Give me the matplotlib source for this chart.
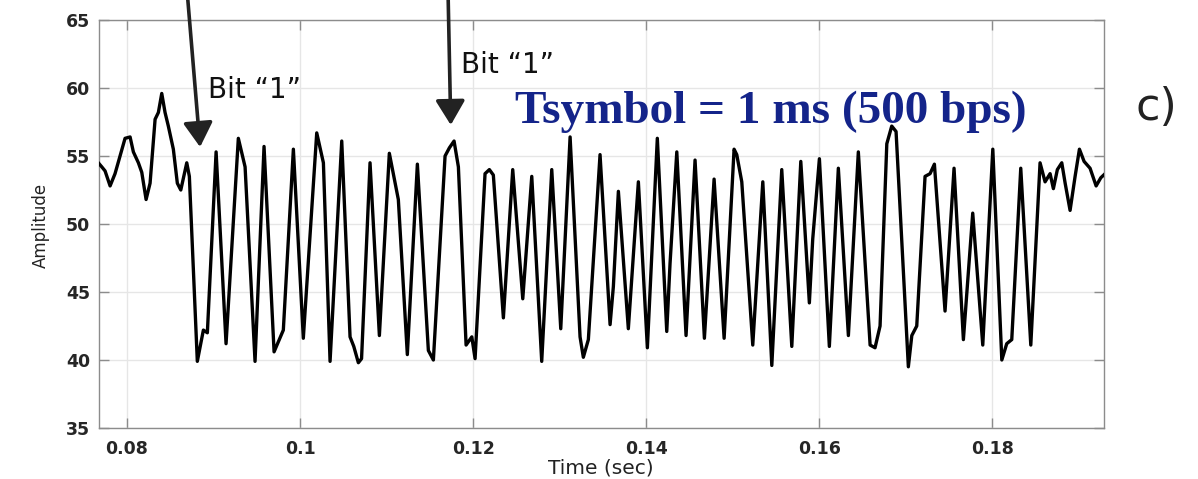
import matplotlib
matplotlib.use("Agg")
import matplotlib.pyplot as plt

# ---- data ----
time_ms = [76.68, 77.08, 77.46, 78.04, 78.61, 79.19, 79.77, 80.35, 80.73, 81.31,
           81.70, 82.20, 82.66, 83.24, 83.62, 84.01, 84.39, 84.77, 85.35, 85.81,
           86.21, 86.90, 87.20, 88.12, 88.82, 89.28, 90.29, 91.44, 92.86, 93.64,
           94.79, 95.83, 96.99, 98.06, 99.22, 100.37, 101.92, 102.69, 103.46,
           104.81, 105.77, 106.20, 106.73, 107.10, 108.08, 109.16, 110.31, 111.35,
           112.39, 113.55, 114.82, 115.40, 116.75, 117.25, 117.79, 118.29, 119.18,
           119.84, 120.22, 121.37, 121.87, 122.33, 123.49, 124.57, 125.73, 126.77,
           127.92, 129.08, 130.12, 131.20, 132.35, 132.73, 133.31, 134.66, 135.82,
           136.20, 136.78, 137.93, 139.09, 140.13, 141.28, 142.37, 142.75, 143.53,
           144.60, 145.64, 146.72, 147.84, 149.00, 150.15, 150.46, 151.04, 152.31,
           153.47, 154.51, 155.66, 156.82, 157.86, 158.85, 159.24, 160.01, 161.16,
           162.20, 163.36, 164.51, 165.87, 166.44, 167.02, 167.80, 168.37, 168.87,
           170.29, 170.69, 171.26, 172.22, 172.80, 173.30, 174.53, 175.57, 176.65,
           177.73, 178.89, 180.05, 181.09, 181.66, 182.24, 183.28, 184.44, 185.51,
           186.09, 186.67, 187.05, 187.51, 188.02, 188.41, 188.98, 189.56, 190.06,
           190.60, 191.29, 191.99, 192.53, 193.03]
amplitude = [54.5, 54.2, 53.9, 52.8, 53.7, 55.0, 56.3, 56.4, 55.3, 54.5,
             53.8, 51.8, 53.0, 57.7, 58.2, 59.6, 58.2, 57.2, 55.5, 53.0,
             52.5, 54.5, 53.5, 39.9, 42.2, 42.0, 55.3, 41.2, 56.3, 54.2,
             39.9, 55.7, 40.6, 42.2, 55.5, 41.6, 56.7, 54.5, 39.9,
             56.1, 41.7, 41.0, 39.8, 40.1, 54.5, 41.8, 55.2, 51.8,
             40.4, 54.4, 40.7, 40.0, 55.0, 55.6, 56.1, 54.2, 41.1,
             41.7, 40.1, 53.7, 54.0, 53.6, 43.1, 54.0, 44.5, 53.5,
             39.9, 54.0, 42.3, 56.4, 41.7, 40.2, 41.5, 55.1, 42.6,
             45.4, 52.4, 42.3, 53.1, 40.9, 56.3, 42.1, 47.1, 55.3,
             41.8, 54.7, 41.6, 53.3, 41.6, 55.5, 55.1, 53.1, 41.1,
             53.1, 39.6, 54.0, 41.0, 54.6, 44.2, 48.9, 54.8, 41.0,
             54.1, 41.8, 55.3, 41.1, 40.9, 42.5, 55.9, 57.2, 56.8,
             39.5, 41.8, 42.5, 53.5, 53.7, 54.4, 43.6, 54.1, 41.5,
             50.8, 41.1, 55.5, 40.0, 41.2, 41.5, 54.1, 41.1, 54.5,
             53.1, 53.7, 52.6, 54.0, 54.5, 53.0, 51.0, 53.5, 55.5,
             54.6, 54.1, 52.8, 53.4, 53.7]
time_s = [t / 1000.0 for t in time_ms]

x_ticks = [0.08, 0.10, 0.12, 0.14, 0.16, 0.18]
x_tick_labels = ["0.08", "0.1", "0.12", "0.14", "0.16", "0.18"]
y_ticks = [35, 40, 45, 50, 55, 60, 65]
y_tick_labels = ["35", "40", "45", "50", "55", "60", "65"]

# annotation targets (data coords: time s, amplitude)
bit_tips = [(0.08844, 55.66), (0.11741, 57.28)]

W, H = 1198, 479
fig = plt.figure(figsize=(W / 100, H / 100), dpi=100)
ax = fig.add_axes([98.5 / W, 1 - 428 / H, (1104 - 98.5) / W, (428 - 20) / H])

ax.plot(time_s, amplitude, color="black", lw=2.4, solid_joinstyle="round", zorder=3)

ax.set_xlim(0.0767, 0.1929)
ax.set_ylim(35, 65)
ax.set_xticks(x_ticks)
ax.set_xticklabels(x_tick_labels)
ax.set_yticks(y_ticks)
ax.set_yticklabels(y_tick_labels)
ax.grid(True, color="#e6e6e6", lw=1.0, zorder=0)
ax.set_axisbelow(True)
for s in ax.spines.values():
    s.set_color("#8c8c8c")
    s.set_linewidth(1.0)
ax.tick_params(direction="in", length=7, width=1, color="#8c8c8c",
               top=True, right=True, labelsize=12.5, labelcolor="#262626")
ax.tick_params(axis="x", pad=9)
ax.tick_params(axis="y", pad=6)
for lab in ax.get_xticklabels() + ax.get_yticklabels():
    lab.set_fontweight("bold")

ax.set_ylabel("Amplitude", fontsize=12, color="#222222")
ax.yaxis.set_label_coords((50 - 98.5) / (1104 - 98.5), (428 - 225) / 408)
fig.text(601 / W, 1 - 474 / H, "Time (sec)", fontsize=14.5, color="#222222",
         ha="center", va="baseline")

# Bit "1" annotations
fig.text(208 / W, 1 - 98 / H, "Bit \u201c1\u201d", fontsize=20, color="#111111", va="baseline")
fig.text(461 / W, 1 - 73 / H, "Bit \u201c1\u201d", fontsize=20, color="#111111", va="baseline")
tails_px = [(187, -10), (448, -10)]
for (tx, ty), (px, py) in zip(bit_tips, tails_px):
    ax.annotate("", xy=(tx, ty), xycoords="data",
                xytext=(px, H - py), textcoords="figure pixels",
                arrowprops=dict(arrowstyle="-|>,head_length=0.75,head_width=0.45",
                                mutation_scale=20, lw=2.6, color="#222222",
                                shrinkA=0, shrinkB=0),
                annotation_clip=False)

fig.text(515 / W, 1 - 123 / H, "Tsymbol = 1 ms (500 bps)", fontsize=34,
         family="Liberation Serif", fontweight="bold", color="#14248a", va="baseline")
fig.text(1135 / W, 1 - 120 / H, "c)", fontsize=32, color="#222222", va="baseline")

fig.savefig("out.png", dpi=100)
